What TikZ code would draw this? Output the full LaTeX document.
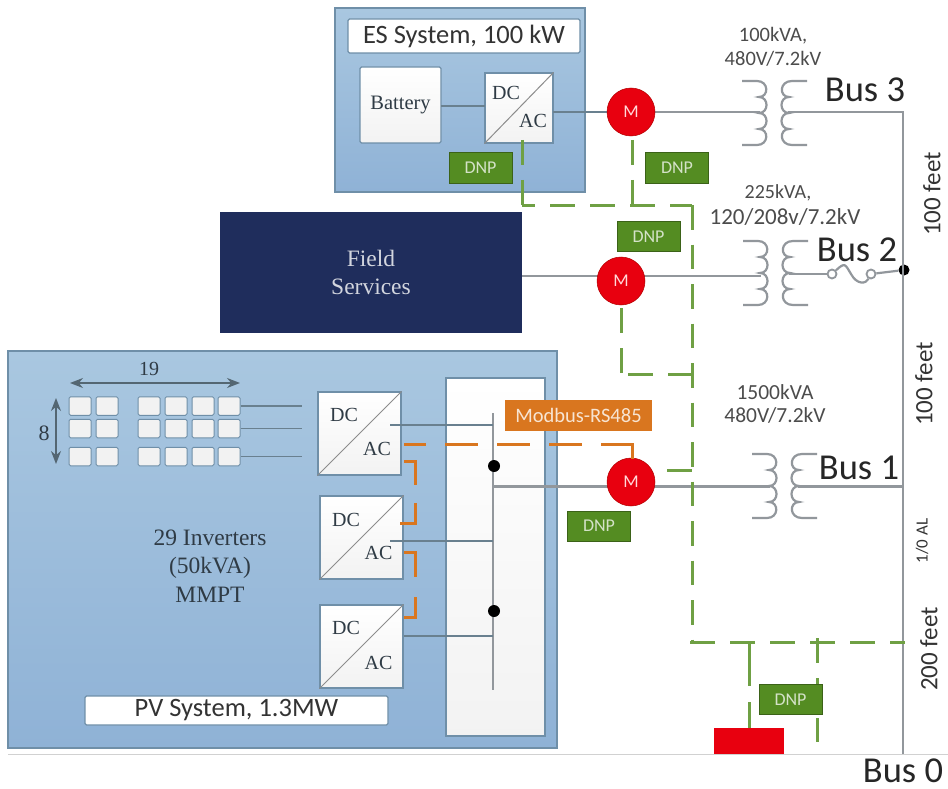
\documentclass[tikz,border=0pt]{standalone}
\usepackage{fontspec}
\setmainfont{Liberation Serif}
\newfontfamily\carl{Carlito}
\usetikzlibrary{arrows.meta}
\definecolor{sysbluet}{HTML}{A9C7E0}
\definecolor{sysblueb}{HTML}{8FB2D6}
\definecolor{edgeb}{HTML}{6F8FA8}
\definecolor{navy}{HTML}{1F2D5C}
\definecolor{mred}{HTML}{E8000F}
\definecolor{dnpg}{HTML}{548C22}
\definecolor{dashg}{HTML}{6FA044}
\definecolor{orng}{HTML}{D9761F}
\definecolor{wire}{HTML}{92979C}
\definecolor{inwire}{HTML}{69808F}
\definecolor{txtd}{HTML}{2F3B45}
\newcommand{\fs}[1]{\fontsize{#1}{#1}\selectfont}
\tikzset{
  x=1pt,y=-1pt,
  sysbox/.style={draw=edgeb,line width=1.2pt,top color=sysbluet,bottom color=sysblueb,inner sep=0pt,rectangle},
  titlebox/.style={draw=edgeb,line width=1.2pt,fill=white,inner sep=0pt,rounded corners=1.5pt,font=\carl\fs{26.5},text=black!80},
  whitebox/.style={draw=edgeb,line width=1.2pt,top color=white,bottom color=black!5,inner sep=0pt},
  meter/.style={circle,fill=mred,draw=red!70!black,line width=.5pt,minimum size=48pt,inner sep=0pt,text=white!85!red,font=\carl\fs{18}},
  dnp/.style={fill=dnpg,draw=dnpg!70!black,line width=1pt,minimum width=63pt,minimum height=30pt,inner sep=0pt,text=white!75!dnpg,font=\carl\fs{18}},
  panel/.style={draw=edgeb,line width=1pt,fill=white!95!black,rounded corners=1.5pt,minimum width=22pt,minimum height=18.5pt,inner sep=0pt},
  wireline/.style={draw=wire,line width=2.2pt},
  inline/.style={draw=inwire,line width=1.4pt},
  greendash/.style={draw=dashg,line width=3pt,dash pattern=on 25pt off 15pt},
  greenvert/.style={draw=dashg,line width=3pt,dash pattern=on 24.5pt off 15pt},
  greensolid/.style={draw=dashg,line width=3pt},
  orangedash/.style={draw=orng,line width=3pt,dash pattern=on 33pt off 19pt,dash phase=11pt},
  orangesolid/.style={draw=orng,line width=3pt},
  label/.style={inner sep=0pt,font=\carl\fs{20.5},text=black!70,align=center},
  bus/.style={inner sep=0pt,font=\carl\fs{36.5},text=black!85},
  feet/.style={inner sep=0pt,font=\carl\fs{25},text=black!80,rotate=90},
  serif/.style={inner sep=0pt,text=txtd,font=\fs{20}},
  dot/.style={circle,fill=black,minimum size=12pt,inner sep=0pt},
}
% \inverter{name}{cx}{cy}{size w}{size h}{dc dx}{dc dy}{ac dx}{ac dy}
\newcommand{\inverter}[9]{%
  \node[whitebox,minimum width=#4pt,minimum height=#5pt] (#1) at (#2,#3) {};
  \draw[draw=black!45,line width=1pt] (#1.south west) -- (#1.north east);
  \node[serif] (#1dc) at ([xshift=#6pt,yshift=#7pt]#1.center) {DC};
  \node[serif] (#1ac) at ([xshift=#8pt,yshift=#9pt]#1.center) {AC};
}
% \xfmr{name}{left x}{centre y}
\newcommand{\xfmr}[3]{%
  \draw[draw=wire,line width=2.2pt,shift={(#2,#3)}]
    (0,-32) -- (15,-32) .. controls (27,-32) and (27,-16) .. (17,-16)
    .. controls (27,-16) and (27,0) .. (17,0)
    .. controls (27,0) and (27,16) .. (17,16)
    .. controls (27,16) and (27,32) .. (15,32) -- (0,32);
  \draw[draw=wire,line width=2.2pt,shift={(#2,#3)}]
    (65,-32) -- (50,-32) .. controls (37,-32) and (37,-16) .. (47,-16)
    .. controls (37,-16) and (37,0) .. (47,0)
    .. controls (37,0) and (37,16) .. (47,16)
    .. controls (37,16) and (37,32) .. (50,32) -- (65,32);
}
\begin{document}
\begin{tikzpicture}
\useasboundingbox (0,0) rectangle (948,789);
\fill[white] (0,0) rectangle (948,789);

% systems
\node[sysbox,minimum width=250pt,minimum height=184pt] (es) at (460,100) {};
\node[sysbox,minimum width=549pt,minimum height=397pt] (pv) at (282.5,549.5) {};
\node[fill=navy,minimum width=302pt,minimum height=121pt,inner sep=0pt,text=white!80!navy,font=\fs{23.5},align=center] (field) at (371,272.5) {Field\\[5pt]Services};

% ES contents
\node[titlebox,minimum width=232pt,minimum height=34pt] (estitle) at (464,36) {ES System, 100 kW};
\node[whitebox,minimum width=81pt,minimum height=76pt,rounded corners=1.5pt,serif,font=\fs{20.5}] (batt) at (400.5,105) {Battery};
\inverter{esinv}{519}{108}{68}{70}{-13}{15}{14}{-13}

% PV contents
\node[whitebox,minimum width=99pt,minimum height=358pt] (pvbus) at (495.5,557) {};
\inverter{inva}{359.5}{433.5}{83}{83}{-15.5}{18.5}{17.5}{-15.5}
\inverter{invb}{361.5}{537.5}{83}{83}{-15.5}{17.5}{17}{-15.5}
\inverter{invc}{361.5}{646.5}{83}{83}{-15.5}{18.5}{17}{-16.5}
\node[titlebox,minimum width=303pt,minimum height=29pt] (pvtitle) at (236.5,710.5) {PV System, 1.3MW};
\node[serif,align=center,font=\fs{23.5}] (inv) at (210,566) {29 Inverters\\[5pt](50kVA)\\[5pt]MMPT};

% PV panels
\foreach \cx/\n in {80/a,107/b,149/c,176/d,203/e,229/f}{
  \foreach \cy/\m in {406/x,428.5/y,456.5/z}{
    \node[panel] (p\n\m) at (\cx,\cy) {};
  }
}
\coordinate (ra) at (302,406);
\coordinate (rb) at (302,428.5);
\coordinate (rc) at (302,456.5);
\draw[inline] (pfx.east) -- (ra);
\draw[inline] (pfy.east) -- (rb);
\draw[inline] (pfz.east) -- (rc);
\node[serif] (n19) at (149,369) {19};
\node[serif,font=\fs{22}] (n8) at (44,433) {8};
\coordinate (al) at (70,383);
\coordinate (ar) at (240,383);
\coordinate (at) at (56,398);
\coordinate (ab) at (56,464);
\draw[draw=inwire!80!black,line width=1.3pt,{Stealth[length=13pt,width=10pt]}-{Stealth[length=13pt,width=10pt]}] (al) -- (ar);
\draw[draw=inwire!80!black,line width=1.3pt,{Stealth[length=13pt,width=10pt]}-{Stealth[length=13pt,width=10pt]}] (at) -- (ab);

% inverter bus
\coordinate (bt) at (493,413);
\coordinate (bb) at (493,690);
\draw[wireline,line width=1.8pt] (bt) -- (bb);
\coordinate (ja) at (390,425);
\coordinate (jb) at (390,541);
\coordinate (ka) at (493,425);
\coordinate (kb) at (493,541);
\coordinate (kc) at (493,636);
\draw[inline] (ja) -- (ka);
\draw[inline] (jb) -- (kb);
\draw[inline] (invc.east |- kc) -- (kc);
\node[dot] (da) at (494,466) {};
\node[dot] (db) at (494,611) {};

% transformers
\xfmr{t3}{742}{113}
\xfmr{t2}{743}{273}
\xfmr{t1}{752}{486}

% power wires
\coordinate (c3) at (903,112);
\coordinate (bus0) at (903,754);
\coordinate (es1) at (441,106);
\coordinate (es2) at (485,106);
\coordinate (es3) at (553,112);
\coordinate (w3a) at (631,112);
\coordinate (w3b) at (760,112);
\coordinate (w3c) at (788,112);
\coordinate (f0) at (522,276);
\coordinate (w2b) at (761,276);
\coordinate (w2c) at (789,274);
\coordinate (kd) at (494,486.5);
\coordinate (w1b) at (770,486.5);
\coordinate (w1c) at (798,486.5);
\coordinate (b1e) at (903,486.5);
\node[dot,minimum size=11pt] (dbus) at (904,270) {};
\draw[inline] (es1) -- (es2);
\draw[inline] (es3) -- (w3a);
\draw[wireline] (w3a) -- (w3b);
\draw[wireline] (w3c) -- (c3) -- (bus0);
\draw[wireline] (f0) -- (w2b);
\draw[wireline] (kd) -- (w1b);
\draw[wireline] (w1c) -- (b1e);
% fuse
\node[circle,draw=wire,line width=1.8pt,fill=white,minimum size=9pt,inner sep=0pt] (fa) at (832,274) {};
\node[circle,draw=wire,line width=1.8pt,fill=white,minimum size=9pt,inner sep=0pt] (fb) at (871,274) {};
\draw[wireline] (w2c) -- (fa);
\draw[wireline] (fa) .. controls (845,262) and (845,264) .. (851,274) .. controls (857,285) and (866,284) .. (fb);
\draw[wireline] (fb) -- (dbus);

% meters
\node[meter] (m1) at (631,112) {M};
\node[meter] (m2) at (621,281) {M};
\node[meter] (m3) at (631,482) {M};

% bottom rule
\coordinate (rl) at (8,754);
\coordinate (rr) at (948,754);
\draw[draw=black!18,line width=1pt] (rl) -- (rr);

% green comms
\coordinate (g1) at (522,140);
\coordinate (g2) at (522,205);
\coordinate (g3) at (692,205);
\coordinate (g4) at (692,641);
\coordinate (g6) at (632,140);
\coordinate (g7) at (632,205);
\coordinate (g8) at (621,308);
\coordinate (g9) at (621,373);
\coordinate (g9b) at (628,374);
\coordinate (g10) at (692,374);
\coordinate (g11) at (667,470);
\coordinate (g12) at (692,470);
\coordinate (h1) at (690,642);
\coordinate (h2) at (905,642);
\coordinate (g13) at (749,642);
\coordinate (g13b) at (749,686);
\coordinate (g14) at (749,702);
\coordinate (g14b) at (749,728);
\coordinate (g15) at (817,638);
\coordinate (g16) at (817,742);
\draw[greendash] (g1) -- (g2);
\draw[greendash,dash phase=12pt] (g2) -- (g3);
\draw[greenvert] (g3) -- (g4);
\draw[greendash] (h1) -- (h2);
\draw[greendash] (g6) -- (g7);
\draw[greendash] (g8) -- (g9);
\draw[greendash] (g9b) -- (g10);
\draw[greensolid] (g11) -- (g12);
\draw[greensolid] (g13) -- (g13b);
\draw[greensolid] (g14) -- (g14b);
\draw[greendash] (g15) -- (g16);

% orange comms
\coordinate (o1) at (404,444);
\coordinate (o2) at (635,444);
\coordinate (o2b) at (632,444);
\coordinate (o3) at (632,459);
\draw[orangedash] (o1) -- (o2);
\draw[orangesolid] (o2b) -- (o3);
\coordinate (oa1) at (404,461); \coordinate (oa2) at (415,461); \coordinate (oa3) at (415,485);
\coordinate (ob1) at (415,503); \coordinate (ob2) at (415,523); \coordinate (ob3) at (400,523);
\coordinate (oc1) at (404,552); \coordinate (oc2) at (415,552); \coordinate (oc3) at (415,577);
\coordinate (od1) at (415,597); \coordinate (od2) at (415,617); \coordinate (od3) at (404,617);
\draw[orangesolid] (oa1) -- (oa2) -- (oa3);
\draw[orangesolid] (ob1) -- (ob2) -- (ob3);
\draw[orangesolid] (oc1) -- (oc2) -- (oc3);
\draw[orangesolid] (od1) -- (od2) -- (od3);
\node[fill=orng,minimum width=147pt,minimum height=31pt,inner sep=0pt,text=white!80!orng,font=\carl\fs{20.5}] (mod) at (578.5,415.5) {Modbus-RS485};

% DNP tags
\node[dnp] (d1) at (480.5,168) {DNP};
\node[dnp] (d2) at (677,168) {DNP};
\node[dnp] (d3) at (648.5,236.5) {DNP};
\node[dnp] (d4) at (599,526) {DNP};
\node[dnp] (d5) at (790.5,699.5) {DNP};

% red box
\node[fill=mred,minimum width=70pt,minimum height=26pt,inner sep=0pt] (rb0) at (749,741) {};

% labels
\node[bus] (l3) at (865,90) {Bus 3};
\node[bus] (l2) at (857,250) {Bus 2};
\node[bus] (l1) at (859,468) {Bus 1};
\node[bus] (l0) at (903,771) {Bus 0};
\node[label] (x3) at (773,47) {100kVA,\\[3pt]480V/7.2kV};
\node[label,font=\carl\fs{20}] (x2a) at (778,193) {225kVA,};
\node[label,font=\carl\fs{23}] (x2b) at (785,217) {120/208v/7.2kV};
\node[label,font=\carl\fs{21.5}] (x1) at (775,404) {1500kVA\\[2pt]480V/7.2kV};
\node[feet] (f1) at (932,194) {100 feet};
\node[feet] (f2) at (924,384) {100 feet};
\node[feet,font=\carl\fs{17}] (f3) at (922,541) {1/0 AL};
\node[feet] (f4) at (929,649) {200 feet};
\end{tikzpicture}
\end{document}
